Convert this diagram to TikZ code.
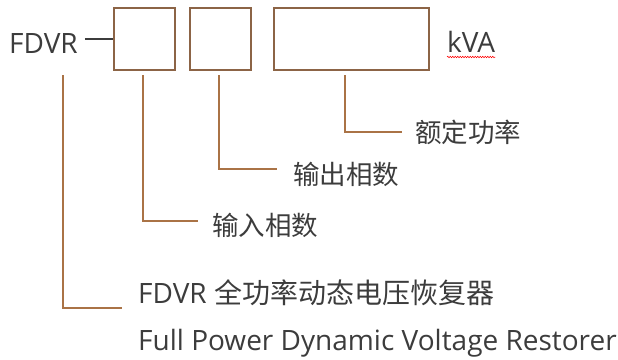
\documentclass[tikz,border=0pt]{standalone}
\usepackage{fontspec}
\setmainfont{Open Sans}
\newfontfamily\cjk{Noto Sans CJK SC}
\usetikzlibrary{decorations.pathmorphing}
\definecolor{txt}{RGB}{60,60,60}
\definecolor{boxc}{RGB}{140,100,70}
\definecolor{linec}{RGB}{170,115,70}
\begin{document}
\begin{tikzpicture}[x=1pt,y=-1pt,
  lbl/.style={inner sep=0pt,anchor=base west,text=txt,font=\fontsize{28}{28}\selectfont},
  cjklbl/.style={lbl,font=\fontsize{26.5}{26.5}\selectfont\cjk},
  codebox/.style={draw=boxc,line width=2pt,inner sep=0pt,anchor=north west},
  conn/.style={draw=linec,line width=1.8pt}]
\useasboundingbox (0,0) rectangle (618,359);
\node[lbl] (fdvr) at (9,53) {FDVR};
\node[codebox,minimum width=61pt,minimum height=62pt] (b1) at (113,7) {};
\node[codebox,minimum width=61pt,minimum height=62pt] (b2) at (189,7) {};
\node[codebox,minimum width=155pt,minimum height=62pt] (b3) at (273,7) {};
\node[lbl] (kva) at (447,52) {kVA};
\draw[red,line width=0.5pt,decorate,decoration={snake,amplitude=0.8pt,segment length=2.5pt}]
  ([yshift=-5pt]kva.base west) -- ([yshift=-5pt]kva.base east);
\draw[txt,line width=1.5pt] ([xshift=7pt]fdvr.east |- 0,39) coordinate (d0) -- (b1.west |- d0);
\node[cjklbl] (rp) at (415,142) {额定功率};
\node[cjklbl] (op) at (293,184) {输出相数};
\node[cjklbl] (ip) at (212,235) {输入相数};
\node[lbl] (name) at (138,303) {FDVR {\cjk 全功率动态电压恢复器}};
\node[lbl] (full) at (138,350) {Full Power Dynamic Voltage Restorer};
\coordinate (s0) at (63,75);
\coordinate (s1) at (143,75);
\coordinate (s2) at (219,75);
\coordinate (s3) at (345,75);
\draw[conn] (s3) |- ([xshift=-13pt,yshift=10pt]rp.base west);
\draw[conn] (s2) |- ([xshift=-16pt,yshift=15pt]op.base west);
\draw[conn] (s1) |- ([xshift=-14pt,yshift=14pt]ip.base west);
\draw[conn] (s0) |- ([xshift=-16pt,yshift=-5pt]name.base west);
\end{tikzpicture}
\end{document}
